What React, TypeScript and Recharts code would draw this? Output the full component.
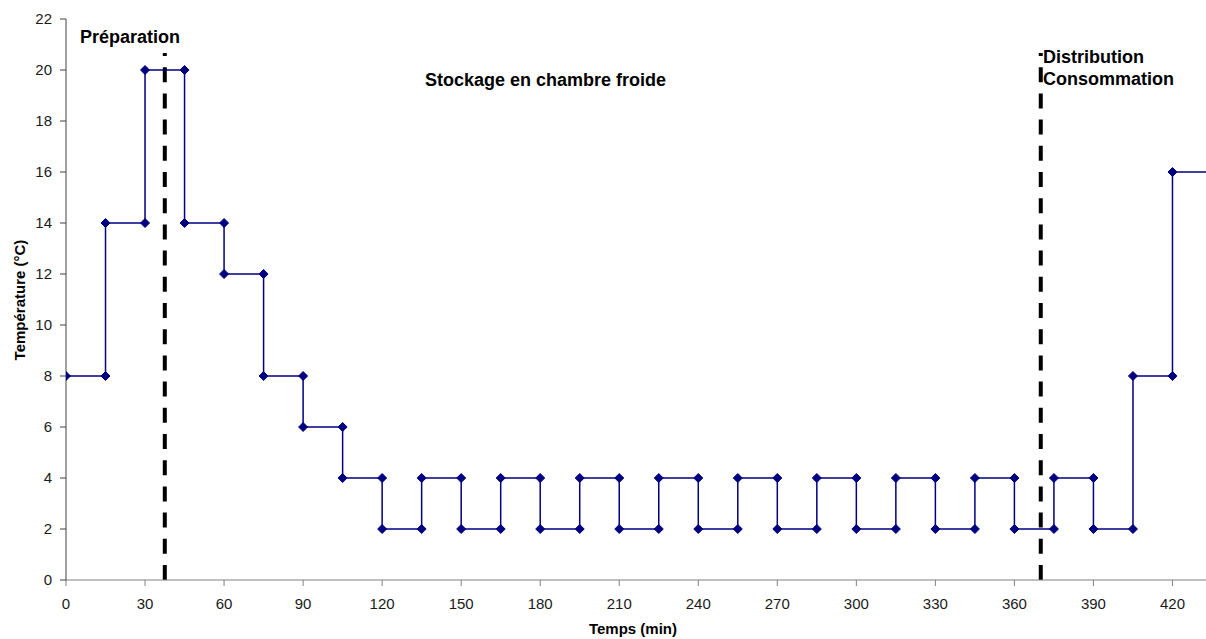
import { LineChart, Line, XAxis, YAxis, ReferenceLine } from 'recharts'

// step corners (minutes, °C)
const times = [
  0, 15, 15, 30, 30, 45, 45, 60, 60, 75, 75, 90, 90, 105, 105, 120, 120, 135, 135,
  150, 150, 165, 165, 180, 180, 195, 195, 210, 210, 225, 225, 240, 240, 255, 255,
  270, 270, 285, 285, 300, 300, 315, 315, 330, 330, 345, 345, 360, 360, 375, 375,
  390, 390, 405, 405, 420, 420, 435,
]
const temps = [
  8, 8, 14, 14, 20, 20, 14, 14, 12, 12, 8, 8, 6, 6, 4, 4, 2, 2, 4,
  4, 2, 2, 4, 4, 2, 2, 4, 4, 2, 2, 4, 4, 2, 2, 4,
  4, 2, 2, 4, 4, 2, 2, 4, 4, 2, 2, 4, 4, 2, 2, 4,
  4, 2, 2, 8, 8, 16, 16,
]
const xTicks = [0, 30, 60, 90, 120, 150, 180, 210, 240, 270, 300, 330, 360, 390, 420]
const yTicks = [0, 2, 4, 6, 8, 10, 12, 14, 16, 18, 20, 22]
const phaseBounds = [37.5, 370]

const data = times.map((t, i) => ({ t, temp: temps[i] }))

const FONT = '"Liberation Sans", Arial, sans-serif'
const NAVY = '#000080'

function Diamond(props: any) {
  const { cx, cy, index } = props
  if (index === data.length - 1 || cx == null) return <g key={`d-${index}`} />
  const r = 4.5
  return (
    <path
      key={`d-${index}`}
      d={`M${cx},${cy - r}L${cx + r},${cy}L${cx},${cy + r}L${cx - r},${cy}Z`}
      fill={NAVY}
      stroke={NAVY}
    />
  )
}

const label = (left: number, top: number, size = 18): React.CSSProperties => ({
  position: 'absolute',
  left,
  top,
  fontFamily: FONT,
  fontWeight: 'bold',
  fontSize: size,
  color: '#000',
  whiteSpace: 'nowrap',
  lineHeight: 1,
})

export default function App() {
  return (
    <div
      style={{
        position: 'absolute',
        left: 0,
        top: 0,
        width: 1206,
        height: 639,
        overflow: 'hidden',
        background: '#fff',
      }}
    >
      <LineChart
        width={1212}
        height={639}
        data={data}
        margin={{ top: 19, right: 0, bottom: 29, left: 0 }}
      >
        <XAxis
          type="number"
          dataKey="t"
          domain={[0, 435]}
          ticks={xTicks}
          allowDataOverflow
          stroke="#808080"
          tickSize={6}
          tickMargin={12}
          tick={{ fill: '#1a1a1a', fontSize: 15, fontFamily: FONT }}
          height={30}
        />
        <YAxis
          type="number"
          domain={[0, 22]}
          ticks={yTicks}
          width={66}
          stroke="#404040"
          tickSize={6}
          tickMargin={8}
          tick={{ fill: '#1a1a1a', fontSize: 15, fontFamily: FONT }}
        />
        {phaseBounds.map((x) => (
          <ReferenceLine
            key={x}
            segment={[
              { x, y: 0 },
              { x, y: 20.67 },
            ]}
            stroke="#000"
            strokeWidth={4}
            strokeDasharray="15 11.2"
          />
        ))}
        <Line
          type="linear"
          dataKey="temp"
          stroke={NAVY}
          strokeWidth={1.5}
          dot={Diamond}
          activeDot={false}
          isAnimationActive={false}
        />
      </LineChart>

      <div style={label(80, 28)}>Préparation</div>
      <div style={label(425, 71)}>Stockage en chambre froide</div>
      <div style={label(1043, 48)}>Distribution</div>
      <div style={label(1043, 70)}>Consommation</div>

      <div style={{ ...label(583, 621, 15), width: 100, textAlign: 'center' }}>Temps (min)</div>
      <div
        style={{
          ...label(19, 300, 15),
          transform: 'translate(-50%, -50%) rotate(-90deg)',
        }}
      >
        Température (°C)
      </div>
    </div>
  )
}
